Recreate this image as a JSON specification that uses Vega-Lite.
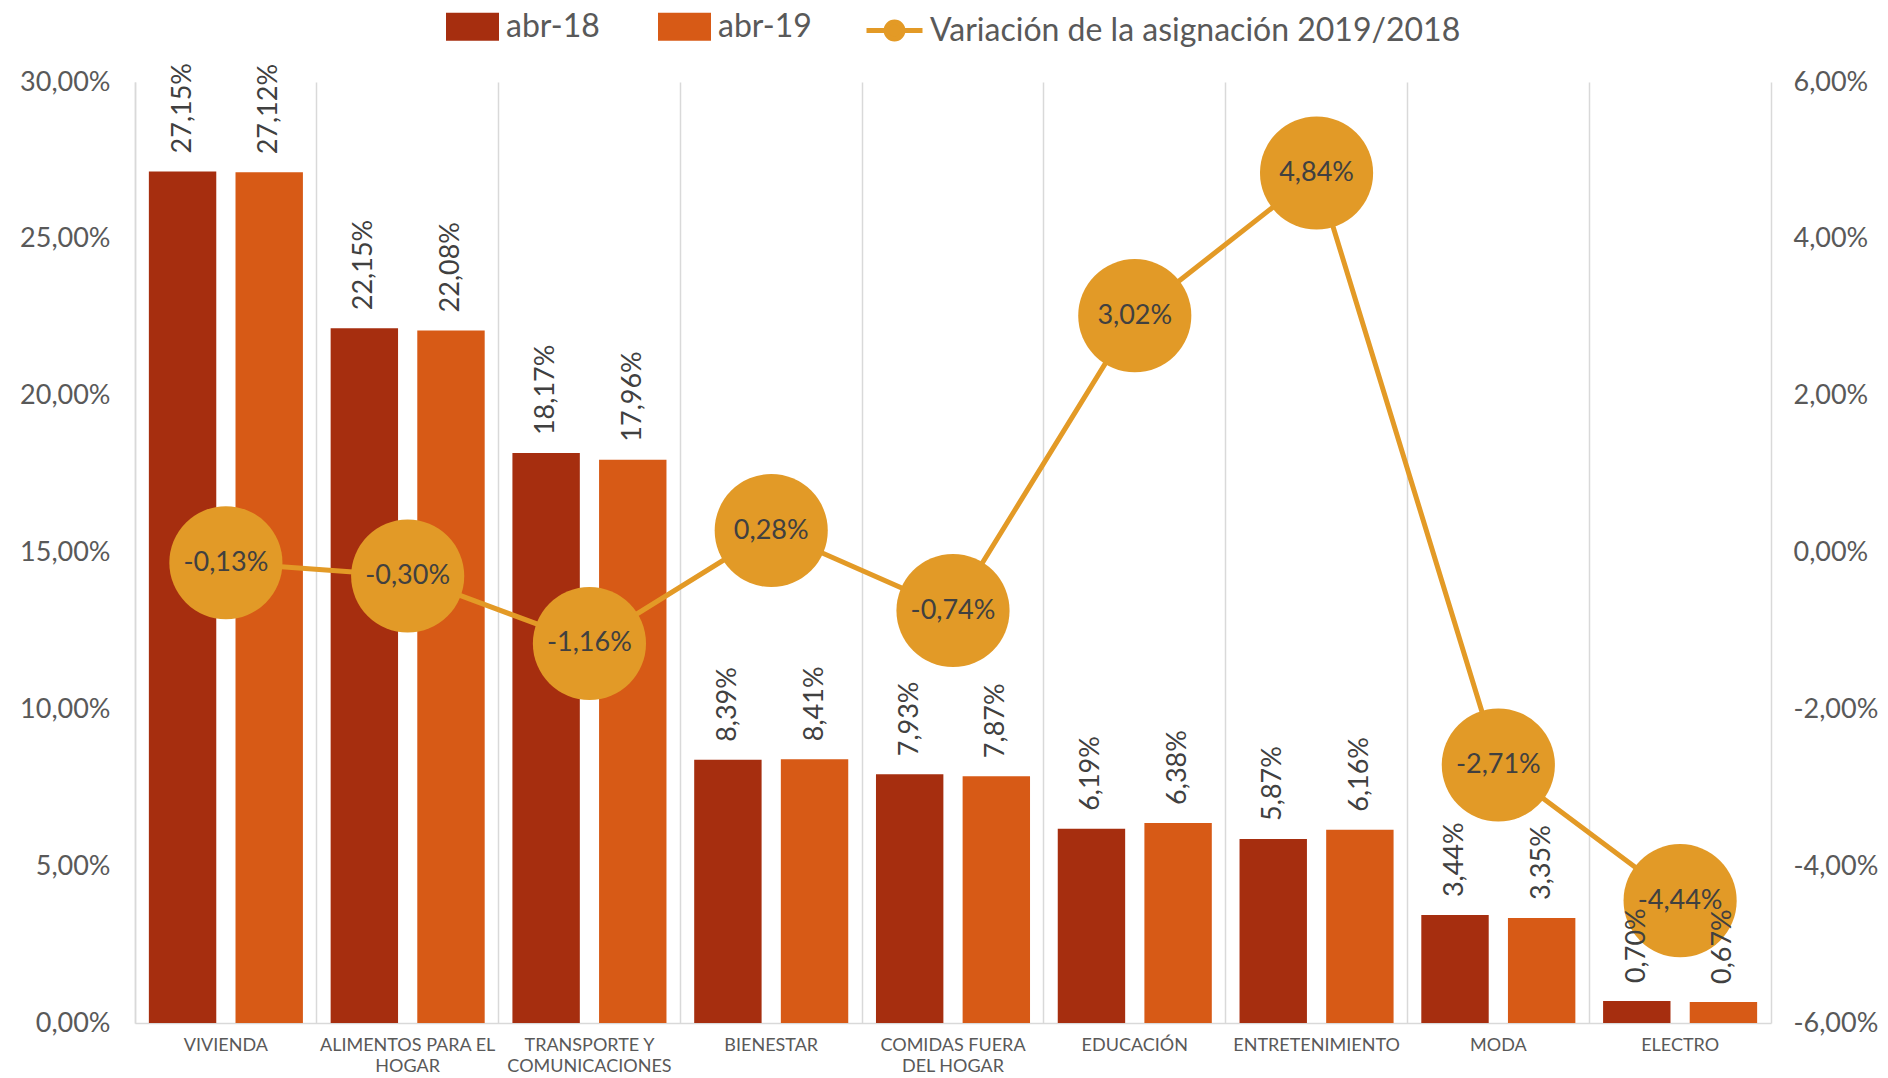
{
  "$schema": "https://vega.github.io/schema/vega-lite/v6.json",
  "width": 1636,
  "height": 941,
  "autosize": {"type": "none"},
  "padding": {"left": 135, "top": 82, "right": 117, "bottom": 55},
  "background": "white",
  "config": {
    "locale": {"number": {"decimal": ",", "thousands": ".", "grouping": [3], "currency": ["", " €"], "minus": "-"}},
    "font": "Lato",
    "view": {"stroke": null},
    "legend": {
      "orient": "top",
      "layout": {"top": {"anchor": "middle", "direction": "horizontal", "margin": 52}},
      "offset": 33,
      "labelFont": "Lato",
      "labelFontSize": 32,
      "labelColor": "#595959",
      "labelLimit": 800,
      "title": null,
      "direction": "horizontal"
    },
    "axis": {
      "labelFont": "Lato",
      "labelColor": "#595959",
      "ticks": false,
      "domainColor": "#D9D9D9",
      "domainWidth": 1.5,
      "gridColor": "#D9D9D9",
      "gridWidth": 1.5,
      "title": null
    }
  },
  "datasets": {
    "bars": [
      {"categoria": "VIVIENDA", "serie": "abr-18", "valor": 0.2715},
      {"categoria": "VIVIENDA", "serie": "abr-19", "valor": 0.2712},
      {"categoria": "ALIMENTOS PARA EL HOGAR", "serie": "abr-18", "valor": 0.2215},
      {"categoria": "ALIMENTOS PARA EL HOGAR", "serie": "abr-19", "valor": 0.2208},
      {"categoria": "TRANSPORTE Y COMUNICACIONES", "serie": "abr-18", "valor": 0.1817},
      {"categoria": "TRANSPORTE Y COMUNICACIONES", "serie": "abr-19", "valor": 0.1796},
      {"categoria": "BIENESTAR", "serie": "abr-18", "valor": 0.0839},
      {"categoria": "BIENESTAR", "serie": "abr-19", "valor": 0.0841},
      {"categoria": "COMIDAS FUERA DEL HOGAR", "serie": "abr-18", "valor": 0.0793},
      {"categoria": "COMIDAS FUERA DEL HOGAR", "serie": "abr-19", "valor": 0.0787},
      {"categoria": "EDUCACIÓN", "serie": "abr-18", "valor": 0.0619},
      {"categoria": "EDUCACIÓN", "serie": "abr-19", "valor": 0.0638},
      {"categoria": "ENTRETENIMIENTO", "serie": "abr-18", "valor": 0.0587},
      {"categoria": "ENTRETENIMIENTO", "serie": "abr-19", "valor": 0.0616},
      {"categoria": "MODA", "serie": "abr-18", "valor": 0.0344},
      {"categoria": "MODA", "serie": "abr-19", "valor": 0.0335},
      {"categoria": "ELECTRO", "serie": "abr-18", "valor": 0.0070},
      {"categoria": "ELECTRO", "serie": "abr-19", "valor": 0.0067}
    ],
    "variacion": [
      {"categoria": "VIVIENDA", "variacion": -0.0013},
      {"categoria": "ALIMENTOS PARA EL HOGAR", "variacion": -0.0030},
      {"categoria": "TRANSPORTE Y COMUNICACIONES", "variacion": -0.0116},
      {"categoria": "BIENESTAR", "variacion": 0.0028},
      {"categoria": "COMIDAS FUERA DEL HOGAR", "variacion": -0.0074},
      {"categoria": "EDUCACIÓN", "variacion": 0.0302},
      {"categoria": "ENTRETENIMIENTO", "variacion": 0.0484},
      {"categoria": "MODA", "variacion": -0.0271},
      {"categoria": "ELECTRO", "variacion": -0.0444}
    ]
  },
  "encoding": {
    "x": {
      "field": "categoria",
      "type": "nominal",
      "sort": null,
      "scale": {"paddingInner": 0, "paddingOuter": 0},
      "axis": {
        "grid": true,
        "bandPosition": 0,
        "labelAngle": 0,
        "labelFontSize": 18,
        "labelPadding": 13,
        "labelLineHeight": 21,
        "labelBaseline": "top",
        "labelLimit": 300,
        "labelExpr": "datum.value == 'ALIMENTOS PARA EL HOGAR' ? ['ALIMENTOS PARA EL', 'HOGAR'] : datum.value == 'TRANSPORTE Y COMUNICACIONES' ? ['TRANSPORTE Y', 'COMUNICACIONES'] : datum.value == 'COMIDAS FUERA DEL HOGAR' ? ['COMIDAS FUERA', 'DEL HOGAR'] : datum.value"
      }
    }
  },
  "layer": [
    {
      "data": {"name": "bars"},
      "mark": {"type": "bar"},
      "encoding": {
        "xOffset": {"field": "serie", "type": "nominal", "scale": {"paddingInner": 0.222, "paddingOuter": 0.16}},
        "y": {
          "field": "valor",
          "type": "quantitative",
          "scale": {"domain": [0, 0.3], "nice": false},
          "axis": {"orient": "left", "format": ".2%", "values": [0, 0.05, 0.1, 0.15, 0.2, 0.25, 0.3], "labelFontSize": 27, "labelPadding": 25, "grid": false}
        },
        "fill": {
          "field": "serie",
          "type": "nominal",
          "scale": {"domain": ["abr-18", "abr-19"], "range": ["#A62E0F", "#D75A16"]},
          "legend": {"symbolType": "M-1,-0.53H1V0.53H-1Z", "symbolSize": 2809, "symbolStrokeWidth": 0, "labelOffset": 7, "columnPadding": 58}
        }
      }
    },
    {
      "data": {"name": "variacion"},
      "mark": {"type": "line", "color": "#E39A26", "strokeWidth": 5},
      "encoding": {
        "y": {
          "field": "variacion",
          "type": "quantitative",
          "scale": {"domain": [-0.06, 0.06], "nice": false},
          "axis": {"orient": "right", "format": ".2%", "values": [-0.06, -0.04, -0.02, 0, 0.02, 0.04, 0.06], "labelFontSize": 27, "labelPadding": 22, "grid": false}
        },
        "stroke": {
          "datum": "Variación de la asignación 2019/2018",
          "scale": {"range": ["#E39A26"]},
          "legend": {"symbolType": "M-1,0L1,0M-0.3,0A0.3,0.3 0 1,0 0.3,0A0.3,0.3 0 1,0 -0.3,0Z", "symbolSize": 3136, "symbolStrokeWidth": 5, "symbolFillColor": "#E39A26", "labelOffset": 5}
        }
      }
    },
    {
      "data": {"name": "variacion"},
      "mark": {"type": "point", "filled": true, "opacity": 1, "color": "#E29A27", "size": 12800, "shape": "circle"},
      "encoding": {
        "y": {"field": "variacion", "type": "quantitative", "scale": {"domain": [-0.06, 0.06], "nice": false}, "axis": null}
      }
    },
    {
      "data": {"name": "variacion"},
      "mark": {"type": "text", "fontSize": 27, "color": "#404040", "align": "center", "baseline": "middle", "font": "Lato"},
      "encoding": {
        "y": {"field": "variacion", "type": "quantitative", "scale": {"domain": [-0.06, 0.06], "nice": false}, "axis": null},
        "text": {"field": "variacion", "type": "quantitative", "format": ".2%"}
      }
    },
    {
      "data": {"name": "bars"},
      "mark": {"type": "text", "angle": 270, "align": "left", "baseline": "middle", "dx": 18, "fontSize": 27, "color": "#404040", "font": "Lato"},
      "encoding": {
        "xOffset": {"field": "serie", "type": "nominal", "scale": {"paddingInner": 0.222, "paddingOuter": 0.16}},
        "y": {"field": "valor", "type": "quantitative", "scale": {"domain": [0, 0.3], "nice": false}, "axis": null},
        "text": {"field": "valor", "type": "quantitative", "format": ".2%"}
      }
    }
  ],
  "resolve": {"scale": {"y": "independent"}}
}
